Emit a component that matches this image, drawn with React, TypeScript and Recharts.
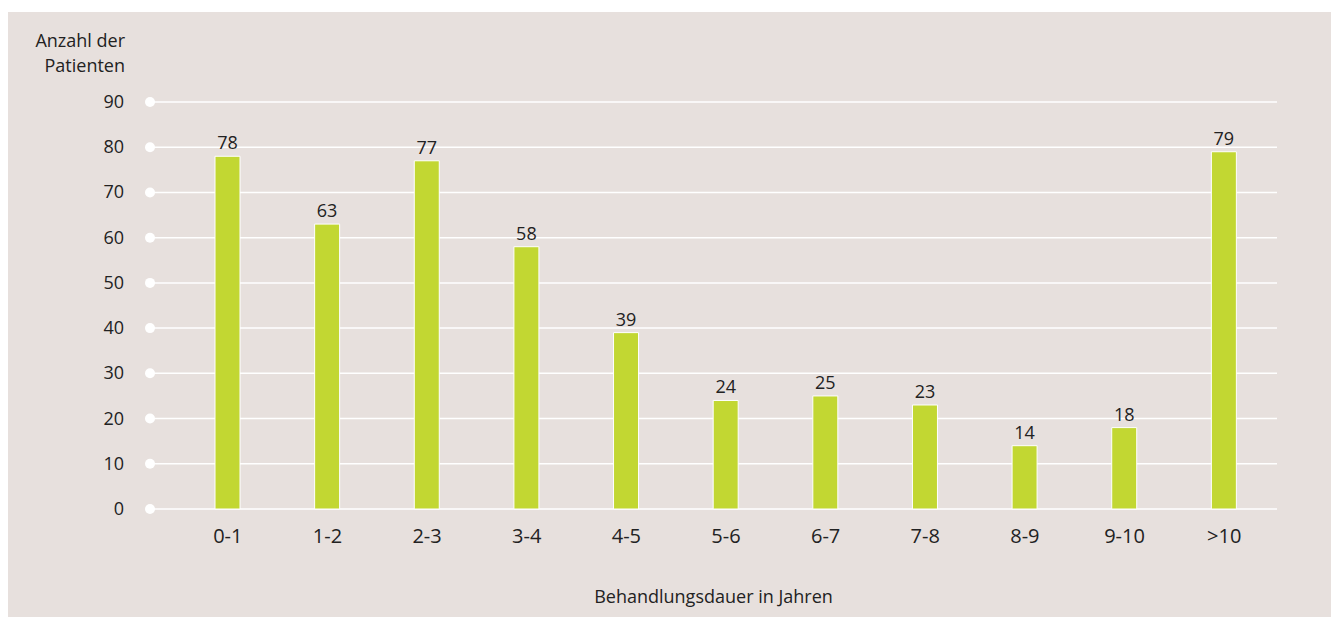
import React from "react";
import {
  BarChart,
  Bar,
  XAxis,
  YAxis,
  CartesianGrid,
  LabelList,
  Label,
} from "recharts";

const BG = "#e7e0dd";
const BAR_FILL = "#c2d732";
const TEXT = "#222222";
const FONT = "'Open Sans', sans-serif";

const categories = ["0-1", "1-2", "2-3", "3-4", "4-5", "5-6", "6-7", "7-8", "8-9", "9-10", ">10"];
const patients = [78, 63, 77, 58, 39, 24, 25, 23, 14, 18, 79];
const yTicks = [0, 10, 20, 30, 40, 50, 60, 70, 80, 90];

const data = categories.map((c, i) => ({ range: c, patients: patients[i] }));

const YTick = (props: any) => {
  const { x, y, payload } = props;
  return (
    <g>
      <circle cx={x + 8} cy={y} r={5} fill="#ffffff" />
      <text x={x - 18} y={y} dy={6} textAnchor="end" fontSize={18} fill={TEXT} fontFamily={FONT}>
        {payload.value}
      </text>
    </g>
  );
};

export default function App() {
  return (
    <div style={{ position: "relative", width: 1331, height: 605, marginTop: 4, background: BG }}>
      <div
        style={{
          position: "absolute",
          left: 0,
          top: 16,
          width: 117,
          textAlign: "right",
          fontFamily: FONT,
          fontSize: 18,
          lineHeight: "25px",
          color: TEXT,
        }}
      >
        Anzahl der
        <br />
        Patienten
      </div>
      <BarChart
        width={1331}
        height={605}
        data={data}
        margin={{ top: 90, right: 62, left: 0, bottom: 0 }}
        barCategoryGap={0}
      >
        <CartesianGrid vertical={false} stroke="#ffffff" strokeWidth={1.5} />
        <XAxis
          dataKey="range"
          height={108}
          axisLine={false}
          tickLine={false}
          padding={{ left: 28, right: 3 }}
          tick={{ fill: TEXT, fontSize: 20, fontFamily: FONT }}
          dy={12}
        >
          <Label
            value="Behandlungsdauer in Jahren"
            position="insideBottom"
            offset={14}
            fill={TEXT}
            fontSize={18}
            fontFamily={FONT}
          />
        </XAxis>
        <YAxis
          width={142}
          domain={[0, 90]}
          ticks={yTicks}
          interval={0}
          axisLine={false}
          tickLine={false}
          tick={<YTick />}
        />
        <Bar dataKey="patients" fill={BAR_FILL} stroke="#ffffff" strokeWidth={1} barSize={25} isAnimationActive={false}>
          <LabelList dataKey="patients" position="top" offset={7} fill={TEXT} fontSize={18} fontFamily={FONT} />
        </Bar>
      </BarChart>
    </div>
  );
}
